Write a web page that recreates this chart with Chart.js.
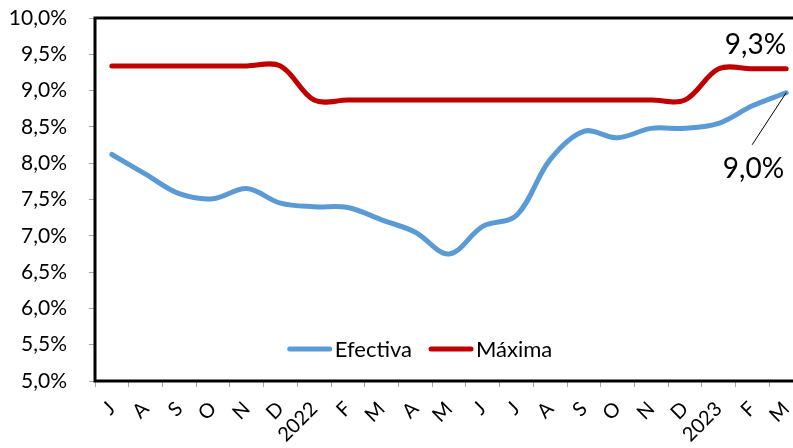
<!DOCTYPE html>
<html>
<head>
<meta charset="utf-8">
<script src="https://cdn.jsdelivr.net/npm/chart.js@4.4.1/dist/chart.umd.min.js"></script>
<style>
  html, body { margin: 0; padding: 0; overflow: hidden; background: #fff; }
  #wrap { width: 806px; height: 448px; }
</style>
</head>
<body>
<div id="wrap"><canvas id="chart" width="806" height="448"></canvas></div>
<script>
// monthly labels, Jul 2021 .. Mar 2023
const months = ['J', 'A', 'S', 'O', 'N', 'D', '2022', 'F', 'M', 'A', 'M', 'J', 'J', 'A', 'S', 'O', 'N', 'D', '2023', 'F', 'M'];
const efectiva = [8.12, 7.85, 7.58, 7.51, 7.65, 7.45, 7.40, 7.39, 7.22, 7.05, 6.75, 7.13, 7.28, 8.05, 8.44, 8.35, 8.48, 8.48, 8.55, 8.79, 8.97];
const maxima = [9.34, 9.34, 9.34, 9.34, 9.34, 9.34, 8.87, 8.87, 8.87, 8.87, 8.87, 8.87, 8.87, 8.87, 8.87, 8.87, 8.87, 8.87, 9.30, 9.30, 9.30];
const seriesNames = ['Efectiva', 'Máxima'];
const seriesColors = ['#5B9BD5', '#C00000'];

const FONT = 'Lato, "Open Sans", sans-serif';

function pct(v, d) {
    return v.toFixed(d).replace('.', ',') + '%';
}

// black frame around the plot area
const framePlugin = {
    id: 'frame',
    beforeDatasetsDraw(chart) {
        const a = chart.chartArea;
        const ctx = chart.ctx;
        ctx.save();
        ctx.strokeStyle = '#000';
        ctx.lineWidth = 3;
        ctx.strokeRect(a.left, a.top, a.right - a.left, a.bottom - a.top);
        ctx.restore();
    }
};

// legend drawn inside the plot, near the bottom
const innerLegend = {
    id: 'innerLegend',
    afterDraw(chart) {
        const ctx = chart.ctx;
        const a = chart.chartArea;
        const y = a.bottom - 32;
        const swatch = 44;
        const gap = 3;
        const itemGap = 17;
        ctx.save();
        ctx.font = '22px ' + FONT;
        ctx.textBaseline = 'middle';
        let widths = chart.data.datasets.map(ds => swatch + gap + ctx.measureText(ds.label).width);
        let total = widths.reduce((s, w) => s + w, 0) + itemGap * (widths.length - 1);
        let x = 420 - total / 2;
        chart.data.datasets.forEach((ds, i) => {
            ctx.strokeStyle = ds.borderColor;
            ctx.lineWidth = 5;
            ctx.lineCap = 'round';
            ctx.beginPath();
            ctx.moveTo(x + 2, y);
            ctx.lineTo(x + swatch - 2, y);
            ctx.stroke();
            ctx.fillStyle = '#000';
            ctx.fillText(ds.label, x + swatch + gap, y + 1);
            x += widths[i] + itemGap;
        });
        ctx.restore();
    }
};

// end-of-series value labels
const endLabels = {
    id: 'endLabels',
    afterDraw(chart) {
        const ctx = chart.ctx;
        const last = months.length - 1;
        const pBlue = chart.getDatasetMeta(0).data[last];
        const pRed = chart.getDatasetMeta(1).data[last];
        ctx.save();
        ctx.font = '28px ' + FONT;
        ctx.fillStyle = '#000';
        ctx.textAlign = 'right';
        ctx.textBaseline = 'middle';
        ctx.fillText(pct(maxima[last], 1), pRed.x, pRed.y - 24);
        ctx.fillText(pct(efectiva[last], 1), pBlue.x - 2, pBlue.y + 76);
        ctx.strokeStyle = '#000';
        ctx.lineWidth = 1;
        ctx.beginPath();
        ctx.moveTo(pBlue.x, pBlue.y);
        ctx.lineTo(pBlue.x - 34, pBlue.y + 52);
        ctx.stroke();
        ctx.restore();
    }
};

const ctx = document.getElementById('chart').getContext('2d');
new Chart(ctx, {
    type: 'line',
    data: {
        labels: months,
        datasets: [
            { label: seriesNames[0], data: efectiva, borderColor: seriesColors[0], backgroundColor: seriesColors[0] },
            { label: seriesNames[1], data: maxima, borderColor: seriesColors[1], backgroundColor: seriesColors[1] }
        ]
    },
    options: {
        responsive: false,
        animation: false,
        devicePixelRatio: 1,
        layout: { autoPadding: false, padding: { top: 18, right: 3, left: 0, bottom: 0 } },
        elements: {
            line: { borderWidth: 5, tension: 0.35, borderCapStyle: 'round', borderJoinStyle: 'round' },
            point: { radius: 0, hoverRadius: 0 }
        },
        plugins: {
            legend: { display: false },
            tooltip: { enabled: false }
        },
        scales: {
            x: {
                offset: true,
                grid: { offset: true, drawOnChartArea: false, drawTicks: true, tickLength: 6, color: '#a6a6a6' },
                border: { display: false },
                ticks: {
                    autoSkip: false,
                    minRotation: 45,
                    maxRotation: 45,
                    padding: 10,
                    color: '#000',
                    font: { family: FONT, size: 20 }
                },
                afterFit: s => { s.height = 67; s.paddingLeft = 0; s.paddingRight = 0; }
            },
            y: {
                min: 5,
                max: 10,
                grid: { drawOnChartArea: false, drawTicks: true, tickLength: 6, color: '#a6a6a6' },
                border: { display: false },
                ticks: {
                    stepSize: 0.5,
                    padding: 22,
                    color: '#000',
                    font: { family: FONT, size: 21 },
                    callback: v => pct(v, 1)
                },
                afterFit: s => { s.width = 95; s.paddingTop = 0; s.paddingBottom = 0; }
            }
        }
    },
    plugins: [framePlugin, innerLegend, endLabels]
});
</script>
</body>
</html>
